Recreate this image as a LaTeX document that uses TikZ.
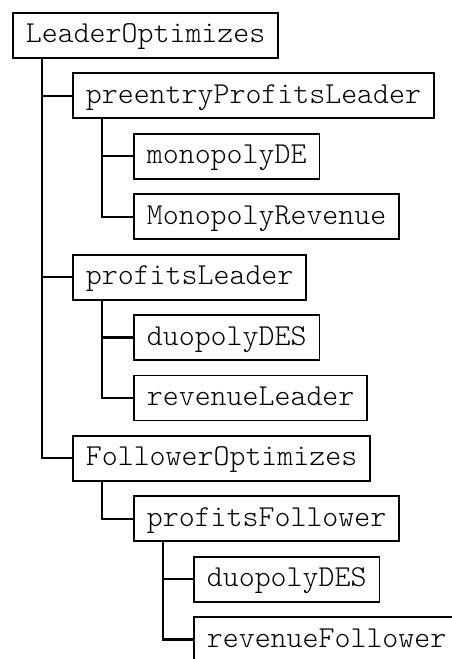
\documentclass[tikz,border=0pt]{standalone}
\usepackage{fontspec}
\setmonofont{Latin Modern Mono Light}
\begin{document}
\begin{tikzpicture}[x=1pt,y=-1pt,
  box/.style={draw=black,line width=1.8pt,anchor=north west,font=\fontsize{30.4}{34}\ttfamily,
    inner xsep=13pt,inner ysep=0pt,minimum height=45pt,text height=19pt,text depth=4pt},
  conn/.style={line width=2.2pt,draw=black}]
\clip (0,0) rectangle (452,659);
\fill[white] (0,0) rectangle (452,659);
\node[box] (r)   at (12,12)     {LeaderOptimizes};
\node[box] (pp)  at (72,72.4)   {preentryProfitsLeader};
\node[box] (md)  at (133,132.9) {monopolyDE};
\node[box] (mr)  at (133,193.3) {MonopolyRevenue};
\node[box] (pl)  at (72,253.7)  {profitsLeader};
\node[box] (dd)  at (133,314.1) {duopolyDES};
\node[box] (rl)  at (133,374.5) {revenueLeader};
\node[box] (fo)  at (72,434.9)  {FollowerOptimizes};
\node[box] (pf)  at (133,495.3) {profitsFollower};
\node[box] (dd2) at (193,555.7) {duopolyDES};
\node[box] (rf)  at (193,616.1) {revenueFollower};
\draw[conn] ([xshift=30pt]r.south west) |- (pp.west);
\draw[conn] ([xshift=30pt]r.south west) |- (pl.west);
\draw[conn] ([xshift=30pt]r.south west) |- (fo.west);
\draw[conn] ([xshift=30pt]pp.south west) |- (md.west);
\draw[conn] ([xshift=30pt]pp.south west) |- (mr.west);
\draw[conn] ([xshift=30pt]pl.south west) |- (dd.west);
\draw[conn] ([xshift=30pt]pl.south west) |- (rl.west);
\draw[conn] ([xshift=30pt]fo.south west) |- (pf.west);
\draw[conn] ([xshift=30pt]pf.south west) |- (dd2.west);
\draw[conn] ([xshift=30pt]pf.south west) |- (rf.west);
\end{tikzpicture}
\end{document}
